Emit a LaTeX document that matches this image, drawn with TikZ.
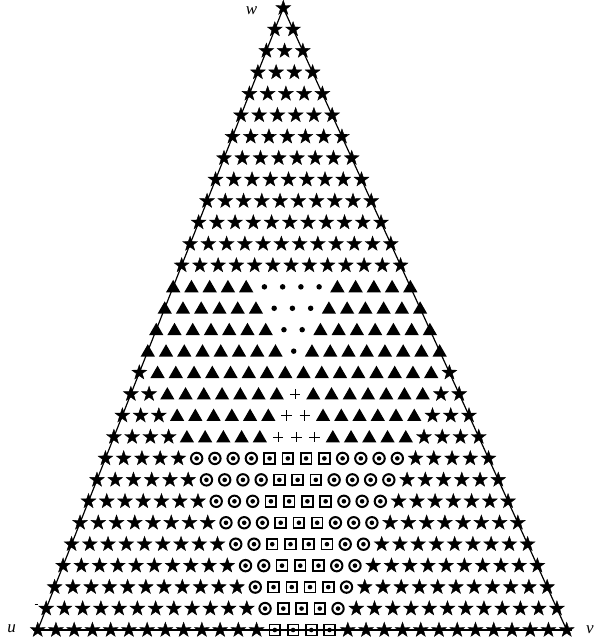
\documentclass[tikz,border=0pt]{standalone}
\usepackage{fontspec}
\setmainfont{Liberation Serif}
\usetikzlibrary{shapes.geometric}
\begin{document}
\begin{tikzpicture}[x=1pt,y=-1pt,
  starsym/.style={star, star points=5, star point ratio=2.5, fill=black, draw=black, line width=0.4pt, inner sep=0pt, minimum size=15.5pt},
  trisym/.style={regular polygon, regular polygon sides=3, fill=black, inner sep=0pt, minimum size=16.5pt, yshift=-1.3pt},
  dotsym/.style={circle, fill=black, inner sep=0pt, minimum size=5.5pt},
  crosssym/.style={rectangle, inner sep=0pt, minimum size=10pt},
  crossline/.style={line width=0.9pt},
  circsym/.style={circle, draw=black, line width=2pt, inner sep=0pt, minimum size=11.4pt,
     path picture={\fill[black] (path picture bounding box.center) circle (2.3pt);}},
  sqsym/.style={rectangle, draw=black, line width=1.7pt, inner sep=0pt, minimum size=10.8pt,
     path picture={\fill[black] (path picture bounding box.center) circle (2.3pt);}},
  edge/.style={line width=1.2pt},
  lab/.style={font=\itshape\fontsize{17}{17}\selectfont, inner sep=0pt, anchor=base}
]
\useasboundingbox (0,0) rectangle (596,641);
\foreach \r in {0,...,29}{
  \foreach \k in {0,...,\r}{
    \pgfmathsetmacro\px{283.3 + \r/29*(37.7-283.3) + \k/29*(566.7-37.7)}
    \pgfmathsetmacro\py{8 + \r/29*622}
    \def\symtype{0}
    \ifnum\r>12
      \pgfmathtruncatemacro\lo{\r-16}
      \ifnum\k<\lo\relax\else\ifnum\k>16\relax\else
        \ifnum\r<17
          \pgfmathtruncatemacro\dlo{\r-8}
          \def\symtype{2}
          \ifnum\k<\dlo\def\symtype{1}\fi
          \ifnum\k>8\def\symtype{1}\fi
        \else\ifnum\r<21
          \pgfmathtruncatemacro\crhi{\r-9}
          \def\symtype{3}
          \ifnum\k<9\def\symtype{1}\fi
          \ifnum\k>\crhi\def\symtype{1}\fi
        \else
          \pgfmathtruncatemacro\dd{abs(2*\k-\r)}
          \def\symtype{5}
          \ifnum\dd>3\def\symtype{4}\fi
        \fi\fi
      \fi\fi
    \fi
    \ifcase\symtype
      \node[starsym] (p-\r-\k) at (\px,\py) {};
    \or
      \node[trisym] (p-\r-\k) at (\px,\py) {};
    \or
      \node[dotsym] (p-\r-\k) at (\px,\py) {};
    \or
      \node[crosssym] (p-\r-\k) at (\px,\py) {};
      \draw[crossline] (p-\r-\k.north) -- (p-\r-\k.south) (p-\r-\k.west) -- (p-\r-\k.east);
    \or
      \node[circsym] (p-\r-\k) at (\px,\py) {};
    \or
      \node[sqsym] (p-\r-\k) at (\px,\py) {};
    \fi
  }
}
\draw[edge, shorten >=-3pt] (p-0-0.center) -- (p-29-0.center);
\draw[edge, shorten >=-3pt] (p-0-0.center) -- (p-29-29.center);
\draw[edge, shorten <=-5pt, shorten >=-5pt] (p-29-0.center) -- (p-29-29.center);
\node[lab] (lw) at (251.5,14) {w};
\node[lab] (lu) at (11.5,632.5) {u};
\node[lab] (lv) at (590,633.5) {v};
\coordinate (da) at (34.5,604.5);
\coordinate (db) at (37.5,604.5);
\draw[line width=0.8pt] (da) -- (db);
\end{tikzpicture}
\end{document}
